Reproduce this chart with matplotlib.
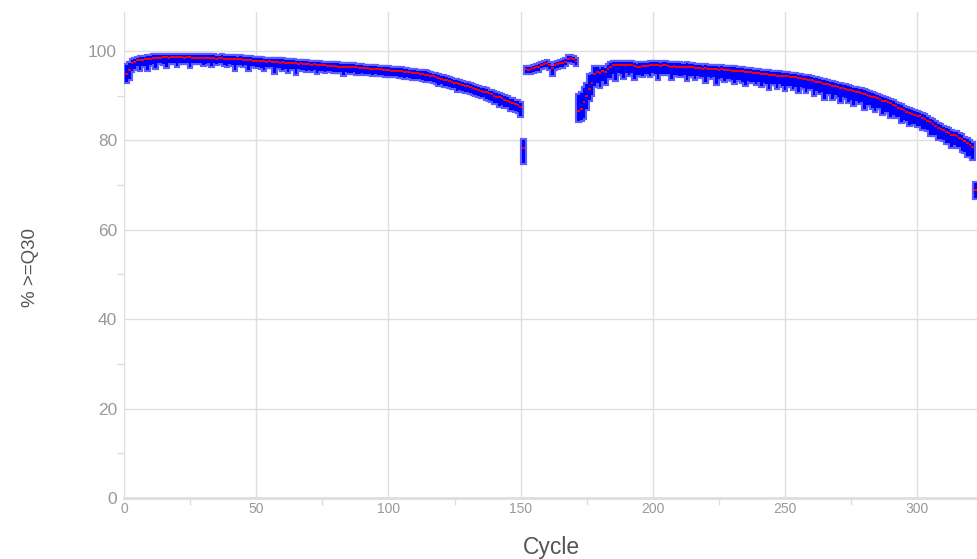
import numpy as np
import matplotlib
matplotlib.use("Agg")
import matplotlib.pyplot as plt
from matplotlib.ticker import MultipleLocator

plt.rcParams['font.family'] = ['Liberation Sans', 'DejaVu Sans']

# median %>=Q30 per cycle
read1_med = [
    94.8, 95.7, 97.2, 97.6, 97.9, 98.0, 98.0, 98.1, 98.3, 98.3,
    98.4, 98.5, 98.4, 98.5, 98.6, 98.6, 98.5, 98.6, 98.6, 98.6,
    98.6, 98.6, 98.5, 98.6, 98.6, 98.5, 98.5, 98.4, 98.5, 98.4,
    98.4, 98.5, 98.4, 98.4, 98.3, 98.4, 98.4, 98.3, 98.3, 98.2,
    98.2, 98.3, 98.1, 98.2, 98.0, 98.0, 97.9, 98.0, 97.8, 97.8,
    97.8, 97.7, 97.7, 97.6, 97.7, 97.6, 97.5, 97.5, 97.4, 97.5,
    97.4, 97.3, 97.3, 97.2, 97.2, 97.1, 97.2, 97.1, 97.0, 97.0,
    96.9, 97.0, 96.9, 96.8, 96.8, 96.8, 96.7, 96.7, 96.6, 96.6,
    96.5, 96.5, 96.5, 96.4, 96.4, 96.3, 96.4, 96.3, 96.2, 96.2,
    96.1, 96.1, 96.0, 96.0, 96.0, 95.9, 95.9, 95.8, 95.8, 95.7,
    95.6, 95.6, 95.5, 95.5, 95.4, 95.3, 95.3, 95.2, 95.1, 95.0,
    95.0, 94.9, 94.8, 94.7, 94.6, 94.4, 94.3, 94.1, 94.0, 93.8,
    93.6, 93.5, 93.3, 93.1, 92.9, 92.8, 92.6, 92.4, 92.2, 92.1,
    91.9, 91.7, 91.5, 91.3, 91.1, 90.9, 90.7, 90.5, 90.3, 90.0,
    89.8, 89.6, 89.4, 89.1, 88.9, 88.6, 88.4, 88.2, 87.9, 87.5,
    78.3,
]
index_med = [
    95.9, 95.8, 96.0, 96.1, 96.3, 96.5, 96.9, 97.1, 97.2, 96.9,
    96.1, 96.8, 97.0, 97.3, 97.4, 97.6, 98.3, 98.4, 98.2, 97.8,
]
read2_med = [
    86.6, 87.0, 88.6, 90.0, 91.4, 92.8, 94.9, 95.2, 95.0, 95.4,
    95.2, 96.0, 96.4, 96.8, 96.9, 96.9, 96.8, 96.9, 96.9, 96.8,
    96.9, 96.6, 96.3, 96.5, 96.6, 96.6, 96.7, 96.9, 96.9, 96.8,
    96.9, 96.7, 96.8, 96.8, 96.6, 96.5, 96.6, 96.5, 96.5, 96.4,
    96.4, 96.5, 96.3, 96.3, 96.2, 96.2, 96.1, 96.0, 96.1, 96.0,
    95.9, 96.0, 95.9, 95.8, 95.9, 95.8, 95.7, 95.7, 95.6, 95.6,
    95.5, 95.4, 95.4, 95.3, 95.2, 95.2, 95.0, 95.1, 95.0, 94.9,
    94.9, 94.8, 94.7, 94.6, 94.6, 94.5, 94.5, 94.4, 94.3, 94.3,
    94.2, 94.1, 94.1, 94.0, 93.9, 93.8, 93.7, 93.6, 93.4, 93.3,
    93.1, 93.0, 92.8, 92.6, 92.5, 92.4, 92.2, 92.1, 92.0, 91.8,
    91.7, 91.5, 91.3, 91.2, 91.0, 90.9, 90.8, 90.6, 90.4, 90.2,
    90.0, 89.8, 89.6, 89.4, 89.2, 88.9, 88.7, 88.5, 88.3, 87.9,
    87.6, 87.3, 87.0, 86.7, 86.4, 86.1, 85.9, 85.7, 85.5, 85.4,
    85.1, 84.8, 84.4, 84.0, 83.6, 83.2, 82.8, 82.5, 82.2, 81.9,
    81.6, 81.3, 81.1, 80.9, 80.6, 80.2, 79.8, 79.4, 79.0, 78.6,
    68.9,
]

# how far the blue bar reaches above / below the median
read1_up = [
    2.1, 1.6, 0.8, 0.7, 0.6, 0.6, 0.6, 0.6, 0.5, 0.5,
    0.6, 0.5, 0.6, 0.5, 0.5, 0.5, 0.6, 0.5, 0.5, 0.5,
    0.5, 0.5, 0.6, 0.5, 0.5, 0.6, 0.6, 0.6, 0.5, 0.6,
    0.6, 0.5, 0.6, 0.6, 0.6, 0.5, 0.6, 0.6, 0.6, 0.6,
    0.6, 0.5, 0.6, 0.6, 0.7, 0.6, 0.7, 0.6, 0.7, 0.6,
    0.6, 0.7, 0.6, 0.7, 0.6, 0.6, 0.7, 0.6, 0.7, 0.6,
    0.6, 0.7, 0.6, 0.7, 0.6, 0.6, 0.6, 0.6, 0.7, 0.6,
    0.7, 0.6, 0.6, 0.7, 0.6, 0.6, 0.7, 0.6, 0.6, 0.6,
    0.7, 0.6, 0.6, 0.6, 0.6, 0.7, 0.6, 0.6, 0.6, 0.6,
    0.6, 0.6, 0.7, 0.6, 0.6, 0.6, 0.6, 0.7, 0.6, 0.6,
    0.6, 0.6, 0.6, 0.6, 0.7, 0.6, 0.6, 0.6, 0.6, 0.7,
    0.6, 0.6, 0.6, 0.7, 0.6, 0.7, 0.6, 0.7, 0.6, 0.7,
    0.7, 0.6, 0.7, 0.7, 0.6, 0.7, 0.7, 0.7, 0.6, 0.7,
    0.7, 0.7, 0.6, 0.7, 0.7, 0.7, 0.7, 0.6, 0.7, 0.7,
    0.7, 0.7, 0.7, 0.8, 0.7, 0.7, 0.8, 0.7, 0.8, 0.8,
    1.8,
]
read1_down = [
    1.7, 1.9, 1.7, 1.6, 1.3, 2.2, 1.4, 1.5, 2.6, 1.4,
    1.3, 2.4, 1.2, 1.3, 1.5, 2.3, 1.2, 1.4, 1.3, 2.0,
    1.2, 1.3, 1.2, 1.4, 2.1, 1.2, 1.3, 1.2, 1.2, 1.5,
    1.3, 1.2, 1.7, 1.2, 1.3, 1.2, 1.2, 1.4, 1.6, 1.2,
    1.3, 2.5, 1.2, 1.4, 1.3, 1.2, 2.2, 1.3, 1.2, 1.4,
    1.3, 1.6, 2.0, 1.3, 1.4, 1.3, 2.5, 1.3, 1.2, 1.7,
    1.4, 2.1, 1.3, 1.3, 2.4, 1.2, 1.4, 1.3, 1.6, 1.2,
    1.3, 1.2, 1.9, 1.4, 1.3, 1.5, 1.3, 1.2, 1.4, 1.3,
    1.2, 1.3, 1.8, 1.2, 1.4, 1.3, 1.2, 1.5, 1.3, 1.2,
    1.3, 1.2, 1.2, 1.4, 1.2, 1.2, 1.3, 1.2, 1.5, 1.2,
    1.3, 1.2, 1.2, 1.3, 1.2, 1.4, 1.2, 1.2, 1.3, 1.2,
    1.3, 1.2, 1.2, 1.5, 1.3, 1.2, 1.3, 1.3, 1.7, 1.3,
    1.4, 1.3, 1.3, 1.4, 1.3, 1.8, 1.3, 1.4, 1.3, 1.3,
    1.4, 1.3, 1.3, 1.4, 1.5, 1.3, 1.4, 1.4, 1.5, 1.7,
    1.4, 1.9, 1.5, 1.6, 1.4, 1.8, 1.6, 1.7, 1.6, 2.0,
    3.4,
]
index_up = [
    0.6, 0.6, 0.5, 0.5, 0.6, 0.5, 0.5, 0.5, 0.5, 0.5,
    0.6, 0.5, 0.5, 0.5, 0.5, 0.5, 0.5, 0.5, 0.5, 0.5,
]
index_down = [
    0.9, 0.8, 0.9, 0.8, 0.8, 0.9, 0.8, 0.8, 0.9, 1.0,
    1.5, 0.9, 0.8, 0.8, 0.9, 0.8, 0.8, 0.8, 0.8, 0.9,
]
read2_up = [
    3.6, 3.5, 3.0, 2.5, 3.3, 2.0, 1.5, 1.2, 1.0, 1.0,
    0.9, 0.8, 0.8, 0.7, 0.7, 0.7, 0.7, 0.7, 0.7, 0.7,
    0.7, 0.7, 0.8, 0.7, 0.7, 0.7, 0.7, 0.7, 0.7, 0.7,
    0.7, 0.7, 0.7, 0.7, 0.7, 0.7, 0.7, 0.7, 0.7, 0.7,
    0.7, 0.7, 0.7, 0.7, 0.7, 0.7, 0.7, 0.7, 0.7, 0.7,
    0.7, 0.7, 0.7, 0.7, 0.7, 0.7, 0.7, 0.7, 0.7, 0.7,
    0.7, 0.7, 0.7, 0.7, 0.7, 0.7, 0.8, 0.7, 0.7, 0.7,
    0.7, 0.7, 0.7, 0.7, 0.7, 0.7, 0.7, 0.7, 0.7, 0.7,
    0.7, 0.7, 0.7, 0.7, 0.7, 0.7, 0.7, 0.7, 0.8, 0.7,
    0.8, 0.7, 0.8, 0.8, 0.7, 0.7, 0.8, 0.7, 0.7, 0.8,
    0.7, 0.8, 0.8, 0.7, 0.8, 0.7, 0.7, 0.8, 0.8, 0.8,
    0.8, 0.8, 0.8, 0.8, 0.8, 0.8, 0.8, 0.8, 0.8, 0.8,
    0.8, 0.8, 0.8, 0.8, 0.8, 0.8, 0.8, 0.8, 0.8, 0.8,
    0.8, 0.8, 0.8, 0.8, 0.9, 0.8, 0.8, 0.9, 0.8, 0.8,
    0.9, 0.8, 0.8, 0.9, 0.8, 0.9, 0.8, 0.9, 0.9, 0.9,
    1.6,
]
read2_down = [
    2.3, 2.4, 3.6, 3.0, 2.3, 2.6, 2.8, 2.4, 3.1, 2.2,
    2.6, 2.0, 2.4, 1.9, 3.4, 1.8, 2.0, 3.0, 1.9, 2.1,
    1.8, 2.9, 1.7, 1.9, 2.3, 1.8, 1.9, 2.6, 1.8, 2.0,
    3.1, 1.8, 1.9, 2.0, 1.8, 2.7, 1.9, 1.8, 2.2, 1.9,
    1.8, 2.9, 1.9, 2.0, 2.4, 1.8, 1.9, 1.8, 3.0, 1.9,
    2.0, 1.9, 3.2, 2.0, 1.9, 2.5, 1.9, 2.0, 2.2, 2.8,
    2.0, 1.9, 2.3, 3.0, 2.0, 2.1, 1.9, 2.6, 2.0, 2.8,
    2.0, 2.2, 3.2, 2.0, 2.1, 2.7, 2.0, 2.3, 3.0, 2.1,
    2.0, 2.6, 2.1, 3.3, 2.0, 2.2, 2.8, 2.1, 2.0, 3.1,
    2.1, 2.4, 2.0, 3.4, 2.2, 2.1, 2.9, 2.0, 2.3, 3.2,
    2.1, 2.0, 2.7, 2.2, 3.0, 2.1, 2.4, 2.0, 3.3, 2.2,
    2.1, 2.6, 3.1, 2.2, 2.0, 2.9, 2.3, 2.1, 3.0, 2.2,
    2.4, 2.1, 2.8, 2.2, 2.0, 2.6, 2.3, 2.1, 2.4, 2.2,
    2.5, 2.2, 2.1, 2.7, 2.3, 2.0, 2.5, 2.2, 2.1, 2.6,
    2.3, 2.8, 2.2, 2.4, 2.1, 2.6, 2.3, 3.0, 2.4, 2.8,
    1.7,
]

median = np.array(read1_med + index_med + read2_med)
up = np.array(read1_up + index_up + read2_up)
down = np.array(read1_down + index_down + read2_down)
cycles = np.arange(1, len(median) + 1)

grey = "#dedede"
fig = plt.figure(figsize=(9.78, 5.59), dpi=100)
ax = fig.add_axes([0.1268, 0.1091, 0.8732, 0.8694])

# blue spread bars with a soft light-blue rim, then red median ticks
ax.bar(cycles, up + down, bottom=median - down, width=1.0,
       color="#0000ff", edgecolor="#5c5cff", linewidth=3.0, zorder=3)
ax.bar(cycles, up + down, bottom=median - down, width=1.0,
       color="#0000ff", linewidth=0, zorder=3)
ax.hlines(median, cycles - 0.5, cycles + 0.5, color="#ff0000",
          linewidth=1.4, zorder=4)

ax.set_xlim(0, 323)
ax.set_ylim(0, 108.7)
ax.xaxis.set_major_locator(MultipleLocator(50))
ax.xaxis.set_minor_locator(MultipleLocator(25))
ax.yaxis.set_major_locator(MultipleLocator(20))
ax.yaxis.set_minor_locator(MultipleLocator(10))
ax.grid(which="major", color=grey, linewidth=1.0, zorder=0)
ax.set_axisbelow(True)

for s in ["top", "right"]:
    ax.spines[s].set_visible(False)
ax.spines["left"].set_color(grey)
ax.spines["bottom"].set_color(grey)
ax.spines["bottom"].set_linewidth(2)

ax.tick_params(axis="both", which="major", length=0, pad=4)
ax.tick_params(axis="both", which="minor", length=5, color=grey, width=1)
ax.tick_params(axis="y", which="major", labelsize=12.5, labelcolor="#999999", pad=5)
ax.tick_params(axis="x", which="major", labelsize=10, labelcolor="#999999", pad=3)

ax.set_xlabel("Cycle", fontsize=16.5, color="#555555")
ax.set_ylabel("% >=Q30", fontsize=13.5, color="#555555")
ax.xaxis.set_label_coords(0.5, -0.078)
ax.yaxis.set_label_coords(-0.099, 0.475)

fig.savefig("out.png", dpi=100)
